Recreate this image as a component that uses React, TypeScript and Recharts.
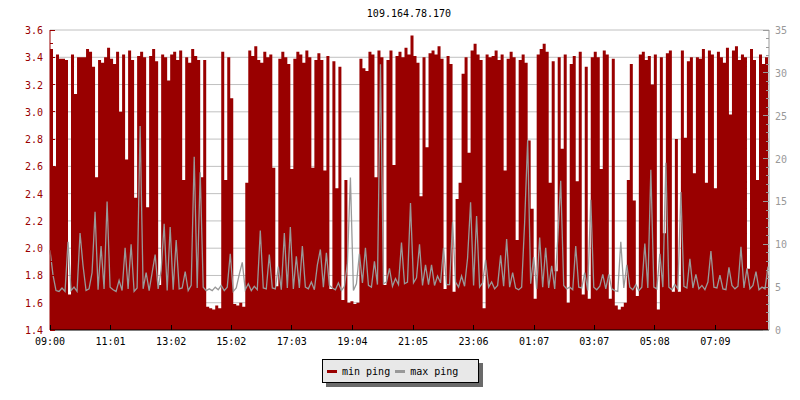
import { Area, CartesianGrid, ComposedChart, Line, XAxis, YAxis } from "recharts";

const title = "109.164.78.170";

// x axis: minutes since 09:00, one sample every 6 minutes
const timeTicks = [0, 121, 242, 362, 483, 604, 725, 846, 967, 1087, 1208, 1329];
const timeLabels = ["09:00", "11:01", "13:02", "15:02", "17:03", "19:04", "21:05", "23:06", "01:07", "03:07", "05:08", "07:09"];

const minTicks = [1.4, 1.5, 1.6, 1.7, 1.8, 1.9, 2.0, 2.1, 2.2, 2.3, 2.4, 2.5, 2.6, 2.7, 2.8, 2.9, 3.0, 3.1, 3.2, 3.3, 3.4, 3.5, 3.6];
const gridValues = [1.6, 1.8, 2.0, 2.2, 2.4, 2.6, 2.8, 3.0, 3.2, 3.4, 3.6];
const maxTicks = [0, 1, 2, 3, 4, 5, 6, 7, 8, 9, 10, 11, 12, 13, 14, 15, 16, 17, 18, 19, 20, 21, 22, 23, 24, 25, 26, 27, 28, 29, 30, 31, 32, 33, 34, 35];

const minPing = [
  3.46, 2.60, 3.42, 3.39, 3.39, 3.38, 1.66, 3.42, 3.13, 3.40,
  3.40, 3.40, 3.46, 3.44, 3.33, 2.52, 3.38, 3.36, 3.40, 3.47,
  3.39, 3.35, 3.44, 3.00, 3.42, 2.65, 3.45, 3.38, 2.37, 3.41,
  3.44, 3.40, 2.30, 3.41, 3.46, 3.37, 1.73, 3.42, 3.40, 3.23,
  3.42, 3.44, 3.38, 3.45, 2.50, 3.40, 3.36, 3.46, 3.41, 3.38,
  2.52, 3.38, 1.57, 1.56, 1.55, 1.58, 1.56, 3.44, 2.50, 3.40,
  3.10, 1.59, 1.58, 1.60, 1.57, 2.48, 3.45, 3.41, 3.48, 3.38,
  3.36, 3.44, 3.40, 3.42, 2.59, 1.72, 3.39, 3.44, 3.40, 3.35,
  2.58, 3.39, 3.44, 3.42, 3.36, 3.45, 3.40, 2.59, 3.38, 3.43,
  3.38, 2.57, 3.41, 1.70, 3.37, 2.44, 3.33, 1.62, 2.50, 1.60,
  1.61, 1.59, 1.60, 3.39, 3.32, 3.30, 3.44, 3.42, 2.52, 3.45,
  3.40, 1.73, 3.38, 3.45, 2.61, 3.41, 3.44, 3.40, 3.47, 3.42,
  3.56, 3.41, 3.36, 2.38, 3.40, 2.74, 3.43, 3.45, 3.42, 3.48,
  3.39, 1.70, 3.41, 3.35, 1.68, 2.36, 2.48, 3.28, 3.40, 2.70,
  3.45, 3.50, 3.42, 3.38, 1.56, 3.42, 3.40, 3.41, 3.45, 3.38,
  3.42, 2.57, 3.39, 3.44, 3.40, 2.06, 3.38, 3.42, 3.36, 2.79,
  2.29, 1.63, 3.42, 3.46, 3.50, 3.44, 2.48, 3.37, 1.83, 3.40,
  2.73, 3.42, 1.60, 3.35, 3.41, 2.49, 3.44, 1.66, 3.33, 1.63,
  3.40, 3.44, 3.40, 2.58, 3.45, 3.42, 1.63, 3.39, 1.58, 1.55,
  1.57, 1.60, 2.50, 3.35, 2.35, 1.65, 3.42, 3.44, 3.38, 3.41,
  3.20, 3.42, 1.55, 3.40, 2.11, 3.43, 3.45, 1.68, 2.80, 1.68,
  3.45, 2.81, 3.37, 3.40, 2.55, 3.40, 3.39, 3.46, 2.48, 3.45,
  3.42, 2.44, 3.44, 3.40, 3.36, 3.47, 2.98, 3.45, 3.48, 3.38,
  3.42, 3.40, 1.85, 3.46, 3.38, 2.50, 3.42, 3.35, 3.40, 3.38,
];

const maxPing = [
  9.3, 6.4, 4.6, 4.5, 4.9, 4.5, 10.3, 4.6, 5.0, 4.5,
  11.3, 7.5, 4.6, 4.8, 6.7, 13.8, 4.7, 9.8, 4.8, 15.0,
  5.0, 4.7, 4.5, 5.8, 4.6, 9.6, 4.8, 10.0, 4.5, 4.9,
  23.8, 4.8, 6.7, 4.6, 6.7, 8.8, 4.8, 7.0, 12.4, 4.6,
  12.0, 4.7, 10.5, 4.8, 4.9, 6.8, 4.6, 5.2, 20.2, 4.9,
  18.4, 5.0, 4.6, 4.8, 4.6, 5.0, 4.7, 5.2, 4.6, 5.0,
  8.9, 4.5, 4.9, 6.5, 7.9, 4.7, 5.4, 4.6, 5.1, 4.7,
  11.6, 4.9, 4.8, 8.8, 4.9, 4.8, 7.4, 4.7, 11.3, 4.9,
  12.0, 4.8, 8.6, 4.9, 9.8, 5.0, 4.8, 5.6, 4.7, 7.6,
  9.4, 5.0, 9.0, 5.2, 4.9, 4.7, 5.5, 4.6, 5.1, 7.8,
  17.8, 4.6, 5.4, 8.9, 5.5, 9.6, 5.2, 5.0, 8.0, 5.3,
  31.0, 5.4, 5.6, 7.2, 5.1, 6.0, 5.3, 10.2, 5.4, 5.6,
  14.8, 5.5, 6.1, 10.0, 5.2, 7.6, 5.3, 7.6, 5.2, 6.3,
  5.5, 9.6, 5.3, 5.3, 12.6, 5.6, 5.0, 6.3, 5.1, 8.4,
  14.9, 5.2, 13.3, 5.0, 5.5, 8.2, 5.0, 5.6, 4.8, 5.2,
  8.7, 5.1, 10.6, 5.0, 6.7, 4.9, 4.7, 5.0, 12.6, 22.2,
  5.4, 8.5, 4.8, 10.8, 5.0, 9.6, 4.9, 7.5, 4.8, 10.5,
  17.4, 5.2, 4.8, 5.0, 4.7, 9.8, 5.0, 4.9, 6.7, 4.6,
  15.2, 5.0, 4.7, 5.1, 6.5, 4.8, 6.5, 4.8, 4.6, 4.5,
  10.3, 4.9, 7.6, 5.0, 4.7, 5.3, 4.6, 5.0, 10.1, 4.9,
  18.7, 5.0, 4.8, 8.9, 5.0, 19.5, 5.0, 4.7, 5.3, 4.8,
  16.1, 5.1, 4.9, 8.3, 4.9, 6.5, 4.8, 5.2, 4.7, 5.6,
  9.2, 5.0, 4.9, 6.4, 4.8, 4.7, 7.3, 5.2, 4.8, 5.1,
  9.7, 4.9, 7.2, 4.8, 5.2, 6.8, 4.7, 5.0, 4.8, 7.4,
];

const data = minPing.map((v, i) => ({ t: i * 6, min: v, max: maxPing[i] }));

const font = "'DejaVu Sans Mono', monospace";
const red = "#990000";
const gray = "#999999";

function MinTick({ x, y, payload }: any) {
  const v = payload.value as number;
  const major = Math.round(v * 10) % 2 === 0;
  return (
    <g>
      <line x1={x + 7} x2={x + 7 + (major ? 5 : 3)} y1={y} y2={y} stroke={red} shapeRendering="crispEdges" />
      {major && (
        <text x={x} y={y} dy={4} textAnchor="end" fill={red} fontSize={10} fontFamily={font}>
          {v.toFixed(1)}
        </text>
      )}
    </g>
  );
}

function MaxTick({ x, y, payload }: any) {
  const v = payload.value as number;
  const major = v % 5 === 0;
  return (
    <g>
      <line x1={x - 6} x2={x - 6 - (major ? 6 : 3)} y1={y} y2={y} stroke={gray} shapeRendering="crispEdges" />
      {major && (
        <text x={x} y={y} dy={4} textAnchor="start" fill={gray} fontSize={10} fontFamily={font}>
          {v}
        </text>
      )}
    </g>
  );
}

function TimeTick({ x, y, payload }: any) {
  const label = timeLabels[timeTicks.indexOf(payload.value)];
  return (
    <g>
      <line x1={x} x2={x} y1={y - 8} y2={y - 13} stroke="#000" shapeRendering="crispEdges" />
      <text x={x} y={y} dy={7} textAnchor="middle" fill="#000" fontSize={10} fontFamily={font}>
        {label}
      </text>
    </g>
  );
}

function Swatch({ color }: { color: string }) {
  return <span style={{ display: "inline-block", width: 10, height: 3, background: color, marginRight: 5 }} />;
}

export default function App() {
  return (
    <div style={{ position: "absolute", left: 0, top: 0, width: 800, height: 400, background: "#fff", fontFamily: font }}>
      <ComposedChart width={800} height={400} data={data} margin={{ top: 30, right: 0, bottom: 0, left: 0 }}>
        <CartesianGrid yAxisId="min" vertical={false} horizontalValues={gridValues} stroke="#c0c0c0" />
        <XAxis
          dataKey="t"
          type="number"
          domain={[0, 1436]}
          ticks={timeTicks}
          interval={0}
          height={70}
          tickSize={0}
          tickMargin={8}
          tickLine={false}
          axisLine={{ stroke: "#000" }}
          tick={<TimeTick />}
        />
        <YAxis
          yAxisId="min"
          orientation="left"
          width={50}
          domain={[1.4, 3.6]}
          ticks={minTicks}
          interval={0}
          tickSize={0}
          tickMargin={7}
          tickLine={false}
          axisLine={{ stroke: red }}
          tick={<MinTick />}
          allowDataOverflow
        />
        <YAxis
          yAxisId="max"
          orientation="right"
          width={31}
          domain={[0, 35]}
          ticks={maxTicks}
          interval={0}
          tickSize={0}
          tickMargin={6}
          tickLine={false}
          axisLine={{ stroke: gray }}
          tick={<MaxTick />}
          allowDataOverflow
        />
        <Area
          yAxisId="min"
          type="stepAfter"
          dataKey="min"
          name="min ping"
          fill={red}
          fillOpacity={1}
          stroke="none"
          isAnimationActive={false}
        />
        <Line
          yAxisId="max"
          type="linear"
          dataKey="max"
          name="max ping"
          stroke={gray}
          strokeWidth={1.3}
          dot={false}
          activeDot={false}
          isAnimationActive={false}
        />
      </ComposedChart>
      <div
        style={{
          position: "absolute",
          left: 409,
          top: 7,
          transform: "translateX(-50%)",
          fontSize: 10,
          lineHeight: "14px",
          color: "#000",
          whiteSpace: "nowrap",
        }}
      >
        {title}
      </div>
      <div
        style={{
          position: "absolute",
          left: 322,
          top: 359,
          width: 151,
          height: 22,
          border: "1px solid #000",
          background: "#e8e8e8",
          boxShadow: "4px 4px 0 #6a6a6a",
          display: "flex",
          alignItems: "center",
          paddingLeft: 4,
          boxSizing: "content-box",
          fontSize: 10,
          color: "#000",
          whiteSpace: "nowrap",
        }}
      >
        <Swatch color={red} />
        <span style={{ marginRight: 5 }}>min ping</span>
        <Swatch color={gray} />
        <span>max ping</span>
      </div>
    </div>
  );
}
